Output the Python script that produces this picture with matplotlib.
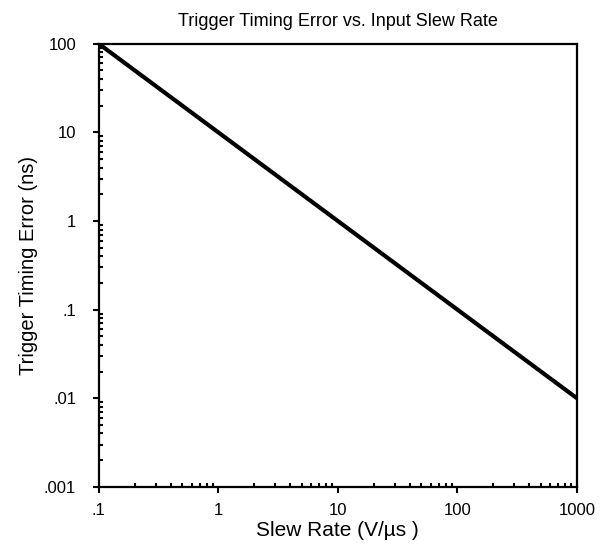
import numpy as np
import matplotlib
matplotlib.use("Agg")
import matplotlib.pyplot as plt
from matplotlib.ticker import FixedLocator, LogLocator, NullFormatter

# data
slew_rate = [0.1, 1000]
timing_error = [100, 0.01]

x_ticks = [0.1, 1, 10, 100, 1000]
x_labels = ['.1', '1', '10', '100', '1000']
y_ticks = [0.001, 0.01, 0.1, 1, 10, 100]
y_labels = ['.001', '.01', '.1', '1', '10', '100']

plt.rcParams['font.family'] = ['Liberation Sans', 'DejaVu Sans']

fig = plt.figure(figsize=(6.06, 5.47), dpi=100)
ax = fig.add_axes([0.163, 0.110, 0.789, 0.810])

ax.plot(slew_rate, timing_error, color='black', lw=3.0, solid_capstyle='butt')

ax.set_xscale('log')
ax.set_yscale('log')
ax.set_xlim(0.1, 1000)
ax.set_ylim(0.001, 100)

ax.xaxis.set_major_locator(FixedLocator(x_ticks))
ax.set_xticklabels(x_labels)
ax.yaxis.set_major_locator(FixedLocator(y_ticks))
ax.set_yticklabels(y_labels)
ax.xaxis.set_minor_locator(LogLocator(base=10, subs=np.arange(2, 10)))
ax.yaxis.set_minor_locator(LogLocator(base=10, subs=np.arange(2, 10)))
ax.xaxis.set_minor_formatter(NullFormatter())
ax.yaxis.set_minor_formatter(NullFormatter())

ax.tick_params(which='major', direction='out', length=4.3, width=1.5, labelsize=12)
ax.tick_params(axis='x', which='major', pad=7)
ax.tick_params(axis='y', which='major', pad=12)
ax.tick_params(which='minor', direction='in', length=3, width=1.5)
ax.tick_params(top=False, right=False, which='both')

for s in ax.spines.values():
    s.set_linewidth(1.6)

ax.set_title('Trigger Timing Error vs. Input Slew Rate', fontsize=13, pad=13)
ax.set_xlabel('Slew Rate (V/µs )', fontsize=15)
ax.set_ylabel('Trigger Timing Error (ns)', fontsize=14.5)
ax.xaxis.set_label_coords(0.5, -0.076)
ax.yaxis.set_label_coords(-0.128, 0.5)

fig.savefig('out.png', dpi=100)
